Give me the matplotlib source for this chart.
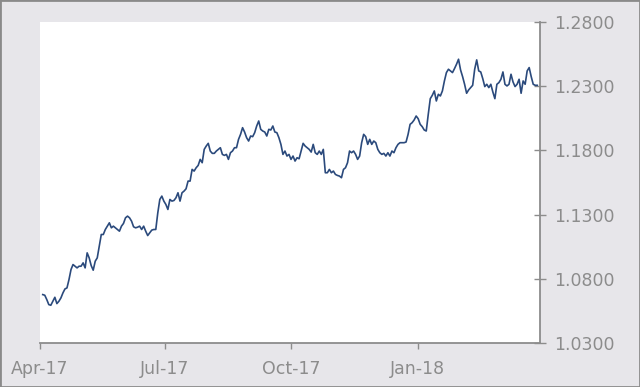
import matplotlib
matplotlib.use("Agg")
import matplotlib.pyplot as plt
import matplotlib.dates as mdates
import pandas as pd
from matplotlib.patches import Rectangle

# EUR/USD style daily series, Apr-2017 .. end of Mar-2018
start_date = "2017-04-03"
end_date = "2018-03-29"
values = [
    1.0677, 1.0672, 1.0638, 1.0599, 1.0594, 1.0625, 1.0656, 1.0607, 1.0625, 1.0651,
    1.0690, 1.0721, 1.0729, 1.0794, 1.0872, 1.0911, 1.0898, 1.0885, 1.0898, 1.0898,
    1.0924, 1.0885, 1.1002, 1.0963, 1.0903, 1.0867, 1.0937, 1.0963, 1.1054, 1.1145,
    1.1145, 1.1184, 1.1210, 1.1236, 1.1197, 1.1210, 1.1197, 1.1184, 1.1171, 1.1210,
    1.1231, 1.1275, 1.1288, 1.1275, 1.1249, 1.1205, 1.1197, 1.1202, 1.1210, 1.1184,
    1.1210, 1.1171, 1.1137, 1.1158, 1.1179, 1.1184, 1.1184, 1.1314, 1.1418, 1.1444,
    1.1405, 1.1379, 1.1340, 1.1418, 1.1405, 1.1410, 1.1431, 1.1470, 1.1405, 1.1470,
    1.1483, 1.1501, 1.1561, 1.1561, 1.1652, 1.1639, 1.1665, 1.1683, 1.1730, 1.1704,
    1.1808, 1.1834, 1.1855, 1.1795, 1.1777, 1.1777, 1.1795, 1.1808, 1.1821, 1.1769,
    1.1761, 1.1769, 1.1730, 1.1782, 1.1795, 1.1821, 1.1821, 1.1886, 1.1925, 1.1977,
    1.1943, 1.1899, 1.1873, 1.1912, 1.1907, 1.1938, 1.1990, 1.2029, 1.1964, 1.1951,
    1.1943, 1.1912, 1.1964, 1.1959, 1.1990, 1.1943, 1.1938, 1.1899, 1.1847, 1.1769,
    1.1795, 1.1756, 1.1769, 1.1730, 1.1756, 1.1717, 1.1743, 1.1735, 1.1795, 1.1855,
    1.1834, 1.1821, 1.1808, 1.1787, 1.1847, 1.1782, 1.1769, 1.1795, 1.1769, 1.1808,
    1.1626, 1.1626, 1.1652, 1.1626, 1.1639, 1.1613, 1.1605, 1.1600, 1.1587, 1.1652,
    1.1665, 1.1704, 1.1795, 1.1782, 1.1795, 1.1769, 1.1730, 1.1756, 1.1860, 1.1925,
    1.1907, 1.1847, 1.1886, 1.1847, 1.1873, 1.1860, 1.1808, 1.1782, 1.1769, 1.1777,
    1.1756, 1.1782, 1.1756, 1.1795, 1.1782, 1.1821, 1.1847, 1.1860, 1.1860, 1.1860,
    1.1865, 1.1925, 1.2003, 1.2016, 1.2037, 1.2068, 1.2047, 1.2003, 1.1985, 1.1959,
    1.1951, 1.2081, 1.2203, 1.2229, 1.2263, 1.2185, 1.2237, 1.2224, 1.2263, 1.2341,
    1.2406, 1.2432, 1.2419, 1.2406, 1.2437, 1.2471, 1.2510, 1.2427, 1.2375, 1.2315,
    1.2245, 1.2271, 1.2289, 1.2307, 1.2432, 1.2505, 1.2419, 1.2411, 1.2359, 1.2297,
    1.2315, 1.2289, 1.2315, 1.2255, 1.2203, 1.2315, 1.2328, 1.2354, 1.2411, 1.2315,
    1.2302, 1.2315, 1.2393, 1.2333, 1.2297, 1.2315, 1.2354, 1.2245, 1.2341, 1.2315,
    1.2419, 1.2445, 1.2375, 1.2315, 1.2307, 1.2307,
]
y_ticks = [1.03, 1.08, 1.13, 1.18, 1.23, 1.28]
x_ticks = ["2017-04-01", "2017-07-01", "2017-10-01", "2018-01-01"]

dates = pd.date_range(start_date, end_date, periods=len(values))

bg = "#e7e6ea"
grey = "#8c8c8c"

fig = plt.figure(figsize=(6.4, 3.87), dpi=100, facecolor=bg)
ax = fig.add_axes([40 / 640, 1 - 343 / 387, 500 / 640, 321 / 387])
ax.set_facecolor("white")
ax.plot(dates, values, color="#2b4a7c", linewidth=1.2)

ax.set_xlim(pd.Timestamp("2017-04-01"), pd.Timestamp("2018-03-31"))
ax.set_ylim(1.03, 1.28)
ax.set_yticks(y_ticks)
ax.yaxis.set_major_formatter(matplotlib.ticker.FormatStrFormatter("%.4f"))
ax.set_xticks([pd.Timestamp(d) for d in x_ticks])
ax.xaxis.set_major_formatter(mdates.DateFormatter("%b-%y"))

ax.yaxis.tick_right()
for s in ["top", "left"]:
    ax.spines[s].set_visible(False)
for s in ["bottom", "right"]:
    ax.spines[s].set_color(grey)
    ax.spines[s].set_linewidth(1.3)

ax.tick_params(axis="y", direction="inout", length=9, width=1, color=grey,
               labelcolor=grey, labelsize=12.5, pad=6)
ax.tick_params(axis="x", direction="out", length=4, width=1, color=grey,
               labelcolor=grey, labelsize=12.5, pad=8)

fig.patches.append(Rectangle((0, 0), 1, 1, transform=fig.transFigure,
                             fill=False, edgecolor="#8a8a8a", linewidth=2))

fig.savefig("out.png", dpi=100, facecolor=bg)
